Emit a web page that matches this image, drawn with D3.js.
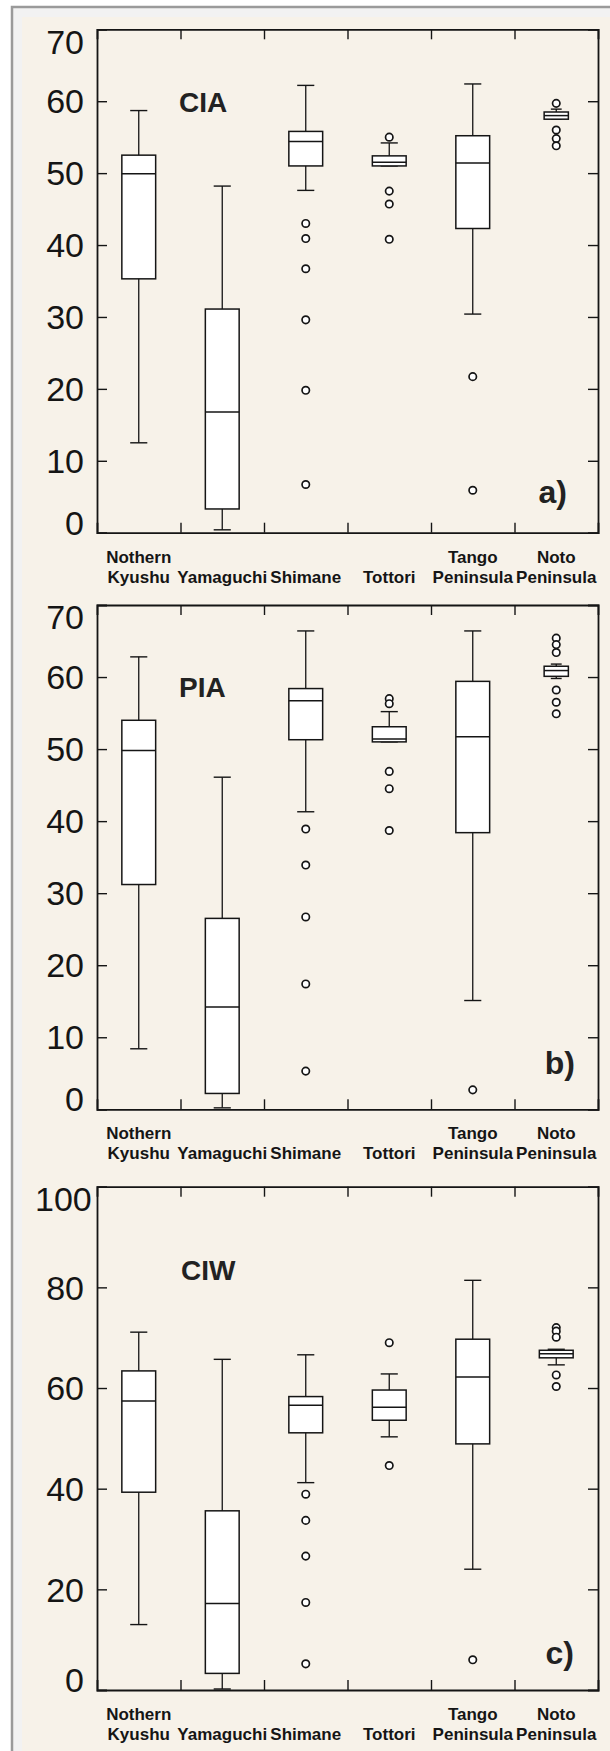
<!DOCTYPE html>
<html><head><meta charset="utf-8">
<script src="https://cdn.jsdelivr.net/npm/d3@7"></script>
<style>html,body{margin:0;padding:0;background:#fff;} svg{display:block}</style>
</head><body>
<svg id="chart" width="610" height="1751"></svg>
<script>
// ---------- DATA ----------
const categories = ["Nothern Kyushu", "Yamaguchi", "Shimane", "Tottori", "Tango Peninsula", "Noto Peninsula"];
const categoryLines = [["Nothern", "Kyushu"], ["", "Yamaguchi"], ["", "Shimane"], ["", "Tottori"], ["Tango", "Peninsula"], ["Noto", "Peninsula"]];

const ticks70 = [0, 10, 20, 30, 40, 50, 60, 70];
const ticks100 = [0, 20, 40, 60, 80, 100];

// a) CIA
const ciaLow  = [12.5, 0.4, 47.6, 51.0, 30.4, 57.5];
const ciaQ1   = [35.3, 3.3, 51.0, 51.0, 42.3, 57.5];
const ciaMed  = [49.9, 16.8, 54.4, 51.5, 51.4, 58.0];
const ciaQ3   = [52.5, 31.1, 55.8, 52.4, 55.2, 58.5];
const ciaHigh = [58.7, 48.2, 62.2, 54.2, 62.4, 58.9];
const ciaOut  = [[], [], [43.0, 40.9, 36.7, 29.6, 19.8, 6.7], [55.0, 47.5, 45.7, 40.8], [21.7, 5.9], [59.7, 56.0, 54.8, 53.8]];

// b) PIA
const piaLow  = [8.4, 0.2, 41.3, 51.0, 15.1, 59.8];
const piaQ1   = [31.2, 2.2, 51.3, 51.0, 38.4, 60.1];
const piaMed  = [49.8, 14.2, 56.7, 51.4, 51.7, 60.9];
const piaQ3   = [54.0, 26.5, 58.4, 53.1, 59.4, 61.5];
const piaHigh = [62.8, 46.1, 66.4, 55.2, 66.4, 61.8];
const piaOut  = [[], [], [38.9, 33.9, 26.7, 17.4, 5.3], [57.0, 56.3, 46.9, 44.5, 38.7], [2.7], [65.4, 64.5, 63.4, 58.2, 56.5, 54.9]];

// c) CIW
const ciwLow  = [13.0, 0.2, 41.2, 50.3, 24.0, 64.6];
const ciwQ1   = [39.3, 3.3, 51.1, 53.6, 48.9, 66.0];
const ciwMed  = [57.4, 17.2, 56.6, 56.2, 62.2, 66.8];
const ciwQ3   = [63.4, 35.6, 58.3, 59.6, 69.7, 67.5];
const ciwHigh = [71.1, 65.7, 66.6, 62.8, 81.4, 67.7];
const ciwOut  = [[], [], [38.9, 33.7, 26.6, 17.4, 5.2], [69.0, 44.6], [6.0], [72.0, 71.3, 70.1, 62.6, 60.3]];

// ---------- LAYOUT ----------
const FONT = "'Liberation Sans', Arial, Helvetica, sans-serif";
const svg = d3.select("#chart");
const X0 = 97, X1 = 598;

// background / frame
svg.append("rect").attr("x", 0).attr("y", 0).attr("width", 610).attr("height", 1751).attr("fill", "#ffffff");
svg.append("rect").attr("x", 12).attr("y", 7).attr("width", 640).attr("height", 1800)
  .attr("fill", "#f2f2f2").attr("stroke", "#9a9a9a").attr("stroke-width", 2.5);
svg.append("rect").attr("x", 22).attr("y", 17).attr("width", 600).attr("height", 1750).attr("fill", "#f7f2e9");

const panels = [
  {title: "CIA", tag: "a)", max: 70, ticks: ticks70, top: 29.3, bottom: 532.7,
   low: ciaLow, q1: ciaQ1, med: ciaMed, q3: ciaQ3, high: ciaHigh, out: ciaOut,
   narrowLast: true, titleX: 179, titleY: 112, tagX: 567, tagY: 503},
  {title: "PIA", tag: "b)", max: 70, ticks: ticks70, top: 605, bottom: 1109.3,
   low: piaLow, q1: piaQ1, med: piaMed, q3: piaQ3, high: piaHigh, out: piaOut,
   narrowLast: true, titleX: 179, titleY: 697, tagX: 575, tagY: 1074},
  {title: "CIW", tag: "c)", max: 100, ticks: ticks100, top: 1186.7, bottom: 1690,
   low: ciwLow, q1: ciwQ1, med: ciwMed, q3: ciwQ3, high: ciwHigh, out: ciwOut,
   narrowLast: false, titleX: 181, titleY: 1280, tagX: 574, tagY: 1664}
];

const INK = "#151515";

panels.forEach(p => {
  const x = d3.scaleBand().domain(categories).range([X0, X1]).paddingInner(0).paddingOuter(0);
  const xb = d3.scaleLinear().domain([0, categories.length]).range([X0, X1]);
  const y = d3.scaleLinear().domain([0, p.max]).range([p.bottom, p.top]);
  const g = svg.append("g");

  // axes with inward ticks
  const inner = p.ticks.filter(t => t > 0 && t < p.max);
  const bounds = d3.range(1, categories.length);
  const axL = g.append("g").attr("transform", `translate(${X0},0)`).call(d3.axisLeft(y).tickValues(inner).tickSize(-10).tickFormat(""));
  const axR = g.append("g").attr("transform", `translate(${X1},0)`).call(d3.axisRight(y).tickValues(inner).tickSize(-10).tickFormat(""));
  const axT = g.append("g").attr("transform", `translate(0,${p.top})`).call(d3.axisTop(xb).tickValues(bounds).tickSize(-10).tickFormat(""));
  const axB = g.append("g").attr("transform", `translate(0,${p.bottom})`).call(d3.axisBottom(xb).tickValues(bounds).tickSize(-10).tickFormat(""));
  [axL, axR, axT, axB].forEach(a => {
    a.select(".domain").attr("stroke", INK).attr("stroke-width", 1.8);
    a.selectAll(".tick line").attr("stroke", INK).attr("stroke-width", 1.4);
  });

  // y tick labels
  const fs = 34, digitH = 0.716 * fs;
  p.ticks.forEach(t => {
    let base;
    if (t === p.max) base = y(t) + digitH;
    else if (t === 0) base = y(t) + 2;
    else base = y(t) + digitH / 2;
    const txt = g.append("text").attr("x", 84).attr("y", base).attr("text-anchor", "end")
      .attr("font-family", FONT).attr("font-size", fs).attr("fill", INK).text(t);
    const len = txt.node().getComputedTextLength();
    if (84 - len < 35) txt.attr("x", 35 + len);
  });

  // boxes
  categories.forEach((c, i) => {
    const cx = x(c) + x.bandwidth() / 2;
    const narrow = p.narrowLast && i === categories.length - 1;
    const bw = narrow ? x.bandwidth() * 0.29 : x.bandwidth() * 0.405;
    const cw = narrow ? x.bandwidth() * 0.13 : x.bandwidth() * 0.205;
    const bg = g.append("g");
    bg.append("line").attr("x1", cx).attr("x2", cx).attr("y1", y(p.high[i])).attr("y2", y(p.low[i]))
      .attr("stroke", INK).attr("stroke-width", 1.3);
    [p.high[i], p.low[i]].forEach(v => {
      bg.append("line").attr("x1", cx - cw / 2).attr("x2", cx + cw / 2).attr("y1", y(v)).attr("y2", y(v))
        .attr("stroke", INK).attr("stroke-width", 1.4);
    });
    bg.append("rect").attr("x", cx - bw / 2).attr("width", bw)
      .attr("y", y(p.q3[i])).attr("height", Math.max(0.5, y(p.q1[i]) - y(p.q3[i])))
      .attr("fill", "#ffffff").attr("stroke", INK).attr("stroke-width", 1.5);
    bg.append("line").attr("x1", cx - bw / 2).attr("x2", cx + bw / 2).attr("y1", y(p.med[i])).attr("y2", y(p.med[i]))
      .attr("stroke", INK).attr("stroke-width", 1.5);
    bg.selectAll("circle.o").data(p.out[i]).join("circle").attr("class", "o")
      .attr("cx", cx).attr("cy", d => y(d)).attr("r", 3.7)
      .attr("fill", "#ffffff").attr("stroke", INK).attr("stroke-width", 1.7);
  });

  // category labels (clamped to stay near the plot frame)
  categoryLines.forEach((lines, i) => {
    const cx = x(categories[i]) + x.bandwidth() / 2;
    const t = g.append("text").attr("font-family", FONT).attr("font-size", 17).attr("font-weight", "bold")
      .attr("fill", INK).attr("text-anchor", "middle");
    const spans = lines.map((ln, k) => t.append("tspan").attr("x", cx).attr("y", p.bottom + 30 + k * 20).text(ln));
    const w = d3.max(spans, s => s.node().getComputedTextLength());
    let nx = cx;
    if (nx - w / 2 < X0 - 3) nx = X0 - 3 + w / 2;
    if (nx + w / 2 > X1 + 3) nx = X1 + 3 - w / 2;
    spans.forEach(s => s.attr("x", nx));
  });

  // panel title and tag
  g.append("text").attr("x", p.titleX).attr("y", p.titleY).attr("font-family", FONT).attr("font-size", 28)
    .attr("font-weight", "bold").attr("fill", "#222").text(p.title);
  g.append("text").attr("x", p.tagX).attr("y", p.tagY).attr("text-anchor", "end").attr("font-family", FONT)
    .attr("font-size", 32).attr("font-weight", "bold").attr("fill", "#222").text(p.tag);
});
</script>
</body></html>
